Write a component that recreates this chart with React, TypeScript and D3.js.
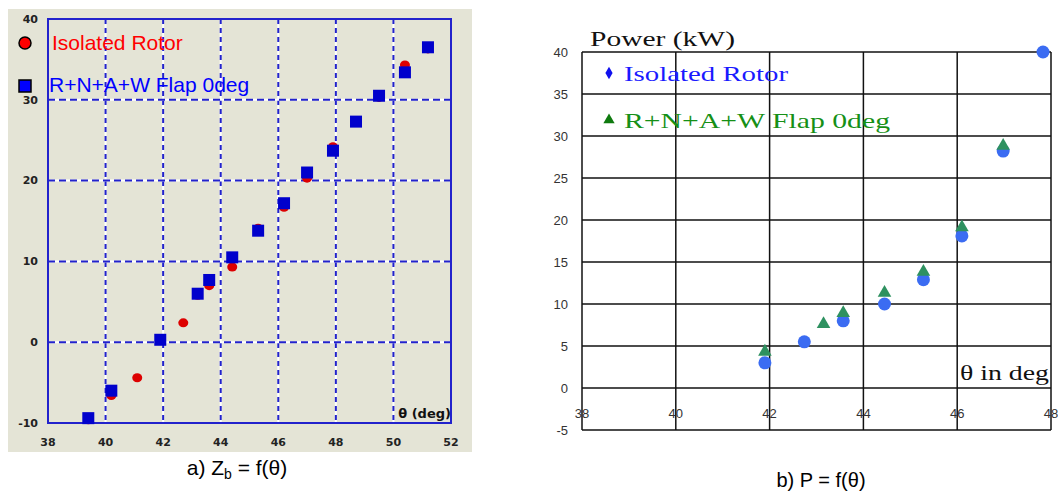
import * as React from "react";
import * as d3 from "d3";

// panel a) Zb = f(theta)
const zbIsolatedTheta = [39.4, 40.2, 41.1, 41.9, 42.7, 43.2, 43.6, 44.4, 45.3, 46.2, 47.0, 47.9, 48.7, 49.5, 50.4, 51.2];
const zbIsolatedValue = [-9.6, -6.6, -4.4, 0.2, 2.4, 5.8, 7.0, 9.3, 14.1, 16.7, 20.3, 24.2, 27.2, 30.3, 34.3, 36.3];
const zbFlapTheta = [39.4, 40.2, 41.9, 43.2, 43.6, 44.4, 45.3, 46.2, 47.0, 47.9, 48.7, 49.5, 50.4, 51.2];
const zbFlapValue = [-9.4, -6.0, 0.3, 6.0, 7.7, 10.5, 13.8, 17.2, 21.0, 23.7, 27.3, 30.5, 33.4, 36.5];
const zbXTicks = [38, 40, 42, 44, 46, 48, 50, 52];
const zbYTicks = [-10, 0, 10, 20, 30, 40];

// panel b) P = f(theta)
const pIsolatedTheta = [41.9, 42.74, 43.57, 44.45, 45.28, 46.1, 46.98, 47.83];
const pIsolatedValue = [3.0, 5.5, 8.0, 10.0, 12.9, 18.1, 28.2, 40.0];
const pFlapTheta = [41.9, 43.15, 43.57, 44.45, 45.28, 46.1, 46.98];
const pFlapValue = [4.2, 7.5, 8.8, 11.2, 13.7, 19.0, 28.7];
const pXTicks = [38, 40, 42, 44, 46, 48];
const pYTicks = [-5, 0, 5, 10, 15, 20, 25, 30, 35, 40];

const legendA = ["Isolated Rotor", "R+N+A+W Flap 0deg"];
const legendB = ["Isolated Rotor", "R+N+A+W Flap 0deg"];

function PanelA() {
  const x = d3.scaleLinear().domain([38, 52]).range([48, 451]);
  const y = d3.scaleLinear().domain([-10, 40]).range([423, 19]);
  const blue = "#2222cc";
  const sans = "Liberation Sans, Arial, sans-serif";
  return (
    <g>
      <rect x={8} y={9} width={464} height={443} fill="#e4e4d6" />
      {/* dashed grid */}
      {zbXTicks.slice(1, -1).map((t) => (
        <g key={"gx" + t}>
          <line x1={x(t)} x2={x(t)} y1={y(40)} y2={y(-10)} stroke="#fff" strokeWidth={2} />
          <line x1={x(t)} x2={x(t)} y1={y(40)} y2={y(-10)} stroke={blue} strokeWidth={2} strokeDasharray="5,4" />
        </g>
      ))}
      {zbYTicks.slice(1, -1).map((t) => (
        <g key={"gy" + t}>
          <line x1={x(38)} x2={x(52)} y1={y(t)} y2={y(t)} stroke="#fff" strokeWidth={2} />
          <line x1={x(38)} x2={x(52)} y1={y(t)} y2={y(t)} stroke={blue} strokeWidth={2} strokeDasharray="7,4" />
        </g>
      ))}
      <rect x={x(38)} y={y(40)} width={x(52) - x(38)} height={y(-10) - y(40)} fill="none" stroke={blue} strokeWidth={2} />
      {/* ticks */}
      <g fontFamily="DejaVu Sans, sans-serif" fontSize={11} fontWeight="bold" fill="#222">
        {zbYTicks.map((t) => (
          <text key={"ty" + t} x={38} y={y(t)} dy="0.35em" textAnchor="end">{t}</text>
        ))}
        {zbXTicks.map((t) => (
          <text key={"tx" + t} x={x(t)} y={442} dy="0.35em" textAnchor="middle">{t}</text>
        ))}
      </g>
      {/* data */}
      {zbIsolatedTheta.map((t, i) => (
        <ellipse key={"r" + i} cx={x(t)} cy={y(zbIsolatedValue[i])} rx={5} ry={4.5} fill="#dd0000" />
      ))}
      {zbFlapTheta.map((t, i) => (
        <rect key={"b" + i} x={x(t) - 6} y={y(zbFlapValue[i]) - 6} width={12} height={12} fill="#0000cc" />
      ))}
      {/* legend */}
      <circle cx={25} cy={43} r={6} fill="#ff0000" stroke="#000" strokeWidth={1.5} />
      <text x={52} y={43} dy="0.35em" fontFamily={sans} fontSize={21} fill="#ff0000">{legendA[0]}</text>
      <rect x={19} y={80} width={12} height={12} fill="#0000ff" stroke="#000" strokeWidth={1.5} />
      <text x={49} y={85} dy="0.35em" fontFamily={sans} fontSize={21} fill="#0000ff">{legendA[1]}</text>
      <text x={451} y={413} dy="0.35em" textAnchor="end" fontFamily="DejaVu Sans, sans-serif" fontSize={13} fontWeight="bold" fill="#111">θ (deg)</text>
      {/* caption */}
      <text x={237} y={475} textAnchor="middle" fontFamily={sans} fontSize={21} fill="#000">
        a) Z<tspan fontSize={14} dy={4}>b</tspan><tspan dy={-4}> = f(θ)</tspan>
      </text>
    </g>
  );
}

function PanelB() {
  const x = d3.scaleLinear().domain([38, 48]).range([582, 1051]);
  const y = d3.scaleLinear().domain([-5, 40]).range([430, 52]);
  const serif = "Liberation Serif, Times New Roman, serif";
  const sans = "Liberation Sans, Arial, sans-serif";
  const tri = d3.symbol().type(d3.symbolTriangle).size(80)() ?? "";
  const legendTri = d3.symbol().type(d3.symbolTriangle).size(55)() ?? "";
  const diamond = d3.symbol().type(d3.symbolDiamond).size(45)() ?? "";
  return (
    <g>
      {pXTicks.map((t) => (
        <line key={"gx" + t} x1={x(t)} x2={x(t)} y1={y(40)} y2={y(-5)} stroke="#111" strokeWidth={1.5} />
      ))}
      {pYTicks.map((t) => (
        <line key={"gy" + t} x1={x(38)} x2={x(48)} y1={y(t)} y2={y(t)} stroke="#111" strokeWidth={1.5} />
      ))}
      <g fontFamily={sans} fontSize={13} fill="#333">
        {pYTicks.map((t) => (
          <text key={"ty" + t} x={568} y={y(t)} dy="0.35em" textAnchor="end">{t}</text>
        ))}
        {pXTicks.map((t) => (
          <text key={"tx" + t} x={x(t)} y={413} dy="0.35em" textAnchor="middle">{t}</text>
        ))}
      </g>
      {pIsolatedTheta.map((t, i) => (
        <circle key={"c" + i} cx={x(t)} cy={y(pIsolatedValue[i])} r={6.5} fill="#3b6cf2" />
      ))}
      {pFlapTheta.map((t, i) => (
        <path key={"t" + i} d={tri} transform={`translate(${x(t)},${y(pFlapValue[i]) - 1})`} fill="#2e9160" />
      ))}
      <text x={590} y={46} fontFamily={serif} fontSize={22} fill="#111" textLength={145} lengthAdjust="spacingAndGlyphs">Power (kW)</text>
      <path d={diamond} transform="translate(609,73)" fill="#1010ee" />
      <text x={624} y={73} dy="0.35em" fontFamily={serif} fontSize={22} fill="#1a1aff" textLength={164} lengthAdjust="spacingAndGlyphs">{legendB[0]}</text>
      <path d={legendTri} transform="translate(609,120)" fill="#0f7a0f" />
      <text x={624} y={120} dy="0.35em" fontFamily={serif} fontSize={22} fill="#169016" textLength={266} lengthAdjust="spacingAndGlyphs">{legendB[1]}</text>
      <rect x={958} y={358} width={92} height={28} fill="#fff" />
      <text x={960} y={372} dy="0.35em" fontFamily={serif} fontSize={22} fill="#111" textLength={89} lengthAdjust="spacingAndGlyphs">θ in deg</text>
      <text x={821} y={487} textAnchor="middle" fontFamily={sans} fontSize={20} fill="#000">b) P = f(θ)</text>
    </g>
  );
}

export default function App() {
  return (
    <svg width={1058} height={491} style={{ position: "absolute", left: 0, top: 0, background: "#fff" }}>
      <PanelA />
      <PanelB />
    </svg>
  );
}
